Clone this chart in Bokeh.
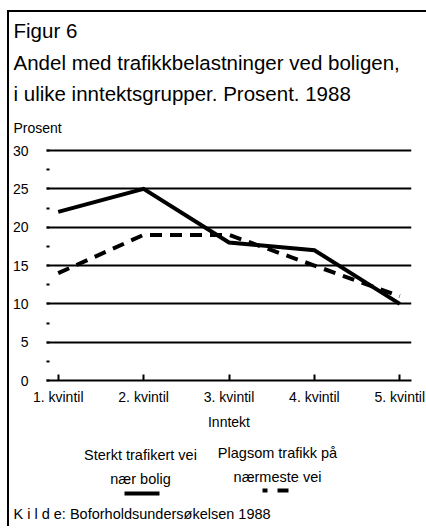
from bokeh.plotting import figure
from bokeh.layouts import column
from bokeh.models import Range1d, FixedTicker, SingleIntervalTicker
from bokeh.core.properties import value
from bokeh.embed import file_html
from bokeh.resources import INLINE

# ---------------- data ----------------
categories = ["1. kvintil", "2. kvintil", "3. kvintil", "4. kvintil", "5. kvintil"]
sterkt_trafikert = [22, 25, 18, 17, 10]      # Sterkt trafikert vei nær bolig
plagsom_trafikk = [14, 19, 19, 15, 11]       # Plagsom trafikk på nærmeste vei
y_ticks_step = 5

title_lines = ["Figur 6",
               "Andel med trafikkbelastninger ved boligen,",
               "i ulike inntektsgrupper. Prosent. 1988"]
y_unit = "Prosent"
x_title = "Inntekt"
legend_1 = ["Sterkt trafikert vei", "nær bolig"]
legend_2 = ["Plagsom trafikk på", "nærmeste vei"]
source_text = "K i l d e:  Boforholdsundersøkelsen 1988"

FONT = "Liberation Sans"
W = 417
H_HEAD, H_MAIN, H_FOOT = 126, 298, 90


def text_panel(h):
    f = figure(width=W, height=h, x_range=Range1d(0, W), y_range=Range1d(h, 0),
               x_axis_type=None, y_axis_type=None,
               min_border=0, min_border_left=0, min_border_right=0,
               min_border_top=0, min_border_bottom=0, frame_align=False,
               output_backend="svg", toolbar_location=None)
    f.title.visible = False
    f.grid.visible = False
    f.outline_line_color = None
    f.background_fill_color = "white"
    f.border_fill_color = "white"
    return f


txt_common = dict(text_font=value(FONT), text_baseline="middle", text_color="black")

# ---------------- heading ----------------
head = text_panel(H_HEAD)
head.text(x=[4, 4, 4], y=[18, 50, 81], text=title_lines,
          text_font_size="20.5px", text_align="left", **txt_common)
head.text(x=[4], y=[115], text=[y_unit], text_font_size="14px",
          text_align="left", **txt_common)

# ---------------- chart ----------------
FL, FR, FT, FB = 28, 402, 9, 242
PAD = 12 / 87.5
xs = list(range(1, len(categories) + 1))

p = figure(width=W, height=H_MAIN,
           x_range=Range1d(1 - PAD, len(categories) + PAD), y_range=Range1d(0, 30.4),
           output_backend="svg", toolbar_location=None, frame_align=False,
           min_border_left=FL, min_border_right=W - FR,
           min_border_top=FT, min_border_bottom=H_MAIN - FB)
p.title.visible = False
p.outline_line_color = None
p.background_fill_color = "white"
p.border_fill_color = "white"

p.xgrid.grid_line_color = None
p.ygrid.grid_line_color = "black"
p.ygrid.grid_line_width = 2

yax = p.yaxis[0]
yax.ticker = SingleIntervalTicker(interval=y_ticks_step, num_minor_ticks=2)
yax.axis_line_color = None
yax.major_tick_line_color = None
yax.minor_tick_in = 3
yax.minor_tick_out = 0
yax.minor_tick_line_width = 2
yax.minor_tick_line_color = "black"
yax.major_label_standoff = 12
yax.major_label_text_font = FONT
yax.major_label_text_font_size = "14px"
yax.major_label_text_color = "black"

xax = p.xaxis[0]
xax.ticker = FixedTicker(ticks=xs)
xax.major_label_overrides = {x: c for x, c in zip(xs, categories)}
xax.axis_line_width = 2
xax.axis_line_color = "black"
xax.major_tick_in = 6
xax.major_tick_out = 0
xax.major_tick_line_width = 2
xax.major_tick_line_color = "black"
xax.minor_tick_line_color = None
xax.major_label_standoff = 8
xax.major_label_text_font = FONT
xax.major_label_text_font_size = "14px"
xax.major_label_text_color = "black"
xax.axis_label = x_title
xax.axis_label_text_font = FONT
xax.axis_label_text_font_size = "14px"
xax.axis_label_text_font_style = "normal"
xax.axis_label_text_color = "black"
xax.axis_label_standoff = 6

solid_style = dict(line_color="black", line_width=4)
dash_style = dict(line_color="black", line_width=4, line_dash="12 8")
p.line(xs, sterkt_trafikert, line_join="miter", **solid_style)
p.line(xs, plagsom_trafikk, **dash_style)

# ---------------- legend + source ----------------
foot = text_panel(H_FOOT)
foot.text(x=[131, 131], y=[18, 42], text=legend_1, text_font_size="14.5px",
          text_align="center", **txt_common)
foot.text(x=[268, 268], y=[16, 40], text=legend_2, text_font_size="14.5px",
          text_align="center", **txt_common)
foot.text(x=[4], y=[77], text=[source_text], text_font_size="14.5px",
          text_align="left", **txt_common)
# legend keys
foot.segment(x0=[115], y0=[57], x1=[150], y1=[57], **solid_style)
foot.segment(x0=[253], y0=[54], x1=[279], y1=[54], line_dash="5 10 11 10",
             line_color="black", line_width=4)

layout = column(head, p, foot, spacing=0,
                styles={"margin-left": "7px", "margin-top": "10px",
                        "border-left": "2px solid black",
                        "border-top": "2px solid black"})

open("out.html", "w").write(file_html(layout, INLINE))
